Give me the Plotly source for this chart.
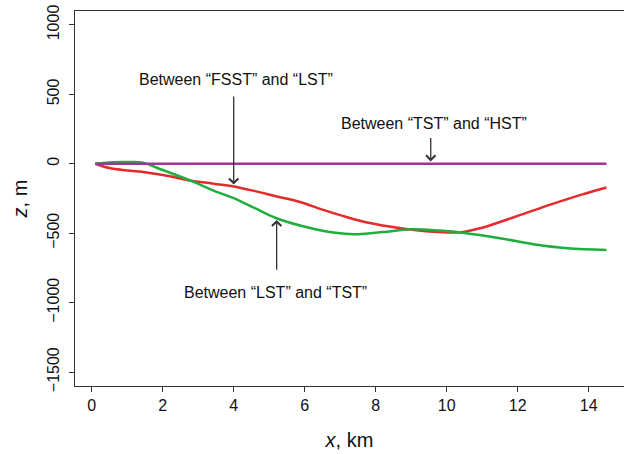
import plotly.graph_objects as go

# Data (km, m)
x_purple = [0.1, 2.0, 4.0, 6.0, 8.0, 10.0, 12.0, 14.5]
z_purple = [0, 0, 0, 0, 0, 0, 0, 0]

x_green = [0.1, 0.5, 1.0, 1.4, 2.0, 2.77, 3.5, 4.0, 4.6, 5.21, 5.87, 6.5, 7.0, 7.5,
           8.2, 9.0, 9.8, 10.5, 11.5, 12.4, 13.4, 14.5]
z_green = [0, 10, 12, 10, -45, -120, -200, -247, -320, -392, -445, -482, -500, -507,
           -492, -471, -481, -498, -536, -577, -608, -620]

x_red = [0.1, 0.5, 1.0, 1.55, 2.2, 2.77, 3.4, 4.0, 4.6, 5.21, 5.87, 6.5, 7.2, 7.8,
         8.7, 9.6, 10.4, 11.0, 12.0, 12.9, 13.8, 14.5]
z_red = [0, -31, -48, -62, -90, -120, -142, -163, -197, -235, -275, -330, -385, -425,
         -464, -490, -493, -460, -375, -296, -222, -171]

x_ticks = [0, 2, 4, 6, 8, 10, 12, 14]
z_ticks = [-1500, -1000, -500, 0, 500, 1000]
z_tick_text = ["\u22121500", "\u22121000", "\u2212500", "0", "500", "1000"]

labels = ["Between \u201cFSST\u201d and \u201cLST\u201d",
          "Between \u201cTST\u201d and \u201cHST\u201d",
          "Between \u201cLST\u201d and \u201cTST\u201d"]
label_x = [4.06, 9.63, 5.18]
label_z = [605, 290, -925]
arrow_tip_x = [4.0, 9.55, 5.21]
arrow_tip_z = [-150, 17, -404]
arrow_tail_z = [495, 197, -774]

FONT = "Liberation Sans, Arial, sans-serif"

fig = go.Figure()
fig.add_trace(go.Scatter(x=x_red, y=z_red, mode="lines", line=dict(color="#e52a2a", width=2.5, shape="spline"), showlegend=False))
fig.add_trace(go.Scatter(x=x_green, y=z_green, mode="lines", line=dict(color="#1fae3c", width=2.5, shape="spline"), showlegend=False))
fig.add_trace(go.Scatter(x=x_purple, y=z_purple, mode="lines", line=dict(color="#a3329c", width=2.5), showlegend=False))

for t, lx, lz, tx, tz, az in zip(labels, label_x, label_z, arrow_tip_x, arrow_tip_z, arrow_tail_z):
    fig.add_annotation(x=lx, y=lz, text=t, showarrow=False, font=dict(size=16, color="#111", family=FONT))
    fig.add_annotation(x=tx, y=tz, ax=tx, ay=az, axref="x", ayref="y", text="",
                       showarrow=True, arrowhead=4, arrowsize=1.4, arrowwidth=1.3,
                       arrowcolor="#333")

fig.update_layout(
    width=624, height=454,
    margin=dict(l=75, r=0, t=11, b=68),
    paper_bgcolor="white", plot_bgcolor="white",
    font=dict(family=FONT, size=16, color="#111"),
    xaxis=dict(range=[-0.470, 14.994], tickvals=x_ticks, ticks="outside", ticklen=5,
               tickcolor="#333", showline=True, linecolor="#333", linewidth=1.3,
               mirror=True, showgrid=False, zeroline=False,
               title=dict(text="<i>x</i>, km", font=dict(size=20), standoff=19)),
    yaxis=dict(range=[-1600, 1100], tickvals=z_ticks, ticktext=z_tick_text, tickangle=-90,
               ticks="outside", ticklen=5, tickcolor="#333", showline=True,
               linecolor="#333", linewidth=1.3, showgrid=False, zeroline=False,
               ticklabelstandoff=3,
               title=dict(text="<i>z</i>, m", font=dict(size=20), standoff=12)),
)

fig.write_html("out.html")
